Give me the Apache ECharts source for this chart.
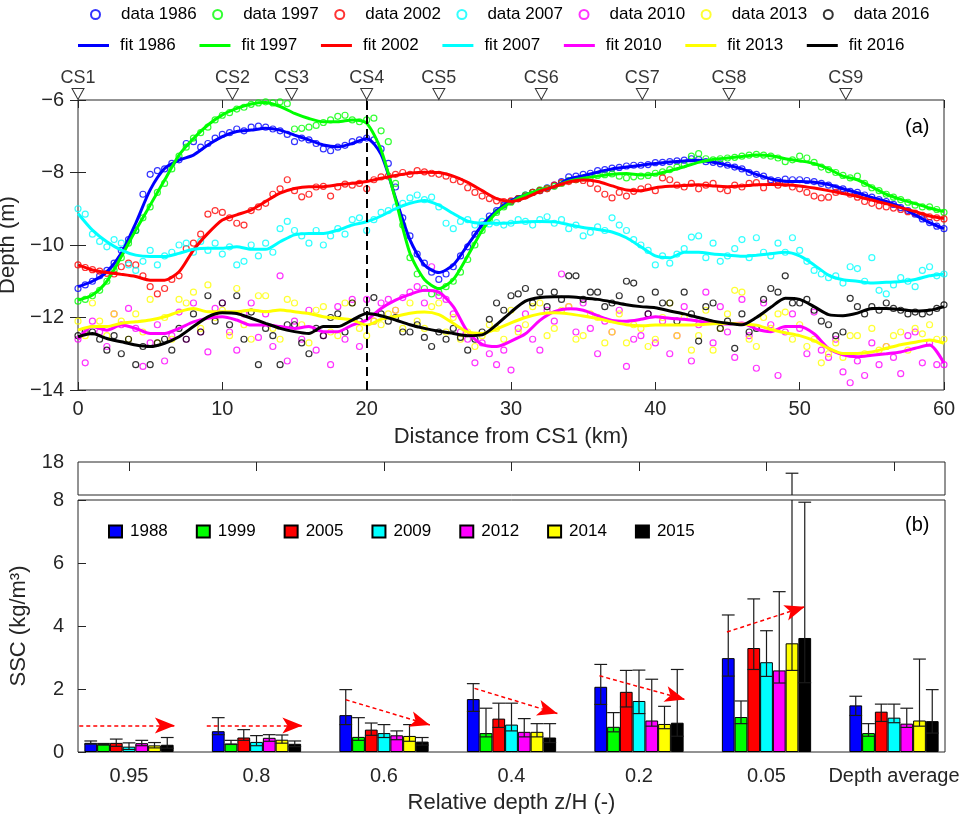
<!DOCTYPE html>
<html><head><meta charset="utf-8">
<script src="https://cdn.jsdelivr.net/npm/echarts@6/dist/echarts.min.js"></script>
<style>html,body{margin:0;padding:0;background:#fff}#c{width:965px;height:818px}</style>
</head><body><div id="c"></div>
<script>
// ---------- Panel (a): bed profiles ----------
const fitKm = [0,1,2,3,4,5,6,7,8,9,10,11,12,13,14,15,16,17,18,19,20,21,22,23,24,25,26,27,28,29,30,
  31,32,33,34,35,36,37,38,39,40,41,42,43,44,45,46,47,48,49,50,51,52,53,54,55,56,57,58,59,60];
const fit1986 = [-11.15,-11.0,-10.74,-10.23,-9.4,-8.48,-7.89,-7.66,-7.52,-7.24,
  -7.01,-6.87,-6.83,-6.78,-6.83,-6.97,-7.1,-7.24,-7.29,-7.2,
  -7.06,-7.5,-8.7,-9.86,-10.55,-10.76,-10.55,-10.0,-9.45,-9.05,
  -8.78,-8.62,-8.5,-8.39,-8.18,-8.09,-7.99,-7.9,-7.85,-7.8,
  -7.75,-7.71,-7.68,-7.66,-7.72,-7.8,-7.9,-8.05,-8.18,-8.24,
  -8.25,-8.27,-8.33,-8.45,-8.56,-8.69,-8.8,-8.95,-9.17,-9.38,-9.55];
const fit1997 = [-11.52,-11.38,-11.0,-10.32,-9.59,-8.9,-8.21,-7.52,-7.06,-6.69,
  -6.41,-6.23,-6.11,-6.07,-6.18,-6.37,-6.51,-6.6,-6.6,-6.55,
  -6.64,-7.38,-8.75,-10.23,-10.95,-11.2,-10.95,-10.3,-9.6,-9.1,
  -8.82,-8.62,-8.48,-8.39,-8.24,-8.16,-8.1,-8.05,-8.03,-8.07,
  -8.05,-7.95,-7.84,-7.72,-7.64,-7.6,-7.56,-7.52,-7.54,-7.62,
  -7.68,-7.75,-7.9,-8.1,-8.2,-8.4,-8.6,-8.74,-8.86,-8.98,-9.08];
const fit2002 = [-10.55,-10.69,-10.76,-10.81,-10.87,-10.97,-10.97,-10.74,-10.14,-9.68,
  -9.31,-9.17,-9.03,-8.8,-8.57,-8.44,-8.39,-8.39,-8.34,-8.3,
  -8.25,-8.16,-8.08,-8.02,-7.99,-8.0,-8.1,-8.27,-8.5,-8.72,
  -8.8,-8.7,-8.52,-8.39,-8.26,-8.21,-8.25,-8.37,-8.48,-8.5,
  -8.42,-8.38,-8.36,-8.34,-8.37,-8.39,-8.37,-8.34,-8.33,-8.34,
  -8.37,-8.43,-8.5,-8.58,-8.66,-8.76,-8.86,-8.97,-9.08,-9.2,-9.27];
const fit2007 = [-9.13,-9.59,-9.91,-10.14,-10.28,-10.32,-10.32,-10.23,-10.12,-10.09,
  -10.09,-10.05,-10.12,-10.12,-9.91,-9.72,-9.68,-9.68,-9.59,-9.45,
  -9.36,-9.2,-9.0,-8.85,-8.77,-8.9,-9.13,-9.34,-9.4,-9.4,
  -9.39,-9.36,-9.35,-9.36,-9.44,-9.52,-9.57,-9.64,-9.8,-10.05,
  -10.3,-10.35,-10.2,-10.2,-10.25,-10.28,-10.31,-10.28,-10.24,-10.2,
  -10.3,-10.55,-10.83,-10.96,-11.0,-11.05,-11.03,-11.01,-10.95,-10.85,-10.8];
const fit2010 = [-12.6,-12.25,-12.35,-12.21,-12.3,-12.44,-12.44,-12.3,-12.12,-12.02,
  -11.98,-12.07,-12.21,-12.21,-12.25,-12.3,-12.25,-12.39,-12.39,-12.21,
  -12.07,-11.75,-11.52,-11.36,-11.25,-11.3,-11.7,-12.4,-12.74,-12.8,
  -12.65,-12.45,-12.08,-11.84,-11.76,-11.8,-11.95,-12.08,-12.1,-12.05,
  -11.98,-12.02,-12.05,-12.1,-12.15,-12.18,-12.15,-12.32,-12.39,-12.25,
  -12.25,-12.45,-12.85,-13.03,-13.08,-13.04,-13.0,-12.95,-12.85,-12.76,-13.26];
const fit2013 = [-12.35,-12.25,-12.25,-12.16,-12.12,-12.07,-11.98,-11.84,-11.75,-11.84,
  -11.84,-11.84,-11.79,-11.84,-11.79,-11.84,-11.89,-11.98,-12.02,-12.07,
  -12.21,-12.05,-11.97,-11.88,-11.85,-11.92,-12.16,-12.4,-12.44,-12.32,
  -12.15,-12.0,-11.9,-11.87,-11.9,-11.96,-12.03,-12.12,-12.2,-12.23,
  -12.21,-12.21,-12.21,-12.2,-12.17,-12.16,-12.18,-12.21,-12.33,-12.42,
  -12.5,-12.64,-12.85,-12.99,-12.99,-12.95,-12.85,-12.75,-12.68,-12.62,-12.71];
const fit2016 = [-12.53,-12.44,-12.58,-12.67,-12.76,-12.8,-12.71,-12.53,-12.25,-11.98,
  -11.87,-11.89,-12.02,-12.16,-12.3,-12.39,-12.44,-12.25,-12.25,-12.07,
  -11.89,-11.95,-12.07,-12.2,-12.3,-12.38,-12.44,-12.5,-12.48,-12.2,
  -11.85,-11.55,-11.45,-11.43,-11.43,-11.46,-11.5,-11.57,-11.65,-11.7,
  -11.73,-11.82,-11.9,-12.0,-12.1,-12.16,-12.2,-12.0,-11.72,-11.47,
  -11.5,-11.7,-11.92,-11.95,-11.88,-11.75,-11.75,-11.78,-11.82,-11.8,-11.7];

const dataKm = [0,0.5,1,1.5,2,2.5,3,3.5,4,4.5, 5,5.5,6,6.5,7,7.5,8,8.5,9,9.5,
  10,10.5,11,11.5,12,12.5,13,13.5,14,14.5, 15,15.5,16,16.5,17,17.5,18,18.5,19,19.5,
  20,20.5,21,21.5,22,22.5,23,23.5,24,24.5, 25,25.5,26,26.5,27,27.5,28,28.5,29,29.5,
  30,30.5,31,31.5,32,32.5,33,33.5,34,34.5, 35,35.5,36,36.5,37,37.5,38,38.5,39,39.5,
  40,40.5,41,41.5,42,42.5,43,43.5,44,44.5, 45,45.5,46,46.5,47,47.5,48,48.5,49,49.5,
  50,50.5,51,51.5,52,52.5,53,53.5,54,54.5, 55,55.5,56,56.5,57,57.5,58,58.5,59,59.5, 60];
const data1986 = [-11.2,-11.1,-11.0,-10.85,-10.7,-10.5,-10.15,-9.85,-9.6,-8.6,
  -8.05,-7.95,-7.9,-7.75,-7.65,-7.2,-7.15,-7.3,-7.2,-7.05,
  -6.95,-6.9,-6.8,-6.85,-6.75,-6.72,-6.75,-6.8,-6.85,-6.95,
  -7.15,-7.05,-7.1,-7.2,-7.35,-7.4,-7.3,-7.25,-7.15,-7.1,
  -7.05,-7.1,-7.35,-7.75,-8.4,-9.25,-9.75,-10.25,-10.5,-10.75,
  -10.95,-10.8,-10.6,-10.3,-10.05,-9.7,-9.45,-9.2,-9.05,-8.9,
  -8.8,-8.72,-8.62,-8.55,-8.5,-8.42,-8.35,-8.25,-8.12,-8.1,
  -8.05,-8.02,-7.95,-7.92,-7.88,-7.86,-7.82,-7.8,-7.8,-7.78,
  -7.73,-7.72,-7.7,-7.68,-7.66,-7.62,-7.64,-7.7,-7.72,-7.76,
  -7.8,-7.85,-7.9,-8.0,-8.05,-8.1,-8.2,-8.22,-8.18,-8.2,
  -8.2,-8.22,-8.25,-8.3,-8.35,-8.42,-8.45,-8.52,-8.55,-8.62,
  -8.68,-8.75,-8.8,-8.88,-8.97,-9.05,-9.15,-9.28,-9.38,-9.48, -9.55];
const data1997 = [-11.55,-11.5,-11.4,-11.25,-11.0,-10.7,-10.35,-9.95,-9.6,-9.25,
  -8.95,-8.55,-8.3,-7.9,-7.55,-7.3,-7.05,-6.9,-6.75,-6.55,
  -6.42,-6.35,-6.25,-6.2,-6.12,-6.08,-6.05,-6.08,-6.05,-6.1,
  -6.8,-6.78,-6.75,-6.7,-6.62,-6.55,-6.45,-6.42,-6.55,-6.6,
  -6.55,-6.5,-6.85,-7.15,-8.3,-9.45,-10.35,-10.8,-11.2,-11.35,
  -11.3,-11.15,-11.0,-10.75,-10.4,-10.0,-9.6,-9.3,-9.1,-8.95,
  -8.82,-8.72,-8.62,-8.55,-8.48,-8.44,-8.38,-8.3,-8.22,-8.2,
  -8.15,-8.12,-8.08,-8.06,-8.04,-8.1,-8.15,-8.12,-8.1,-8.08,
  -8.02,-7.98,-7.92,-7.85,-7.78,-7.55,-7.48,-7.62,-7.65,-7.62,
  -7.6,-7.58,-7.55,-7.52,-7.5,-7.52,-7.55,-7.6,-7.7,-7.65,
  -7.55,-7.6,-7.72,-7.85,-7.92,-8.0,-8.08,-8.15,-8.1,-8.3,
  -8.42,-8.5,-8.6,-8.68,-8.75,-8.82,-8.9,-8.95,-8.95,-9.02, -9.1];
const data2002 = [-10.55,-10.62,-10.68,-10.72,-10.78,-10.8,-10.6,-10.5,-10.55,-10.85,
  -11.15,-11.35,-11.2,-10.95,-10.85,-10.1,-9.95,-9.7,-9.15,-9.05,
  -9.1,-9.25,-9.4,-9.45,-9.05,-8.95,-8.85,-8.6,-8.45,-8.2,
  -8.5,-8.67,-8.6,-8.4,-8.38,-8.65,-8.4,-8.32,-8.35,-8.3,
  -8.45,-8.2,-8.12,-8.1,-8.05,-8.0,-8.05,-7.95,-7.98,-8.02,
  -8.05,-8.1,-8.2,-8.25,-8.42,-8.55,-8.65,-8.72,-8.78,-8.8,
  -8.78,-8.72,-8.65,-8.55,-8.5,-8.45,-8.35,-8.28,-8.25,-8.2,
  -8.22,-8.3,-8.45,-8.6,-8.7,-8.55,-8.65,-8.52,-8.45,-8.4,
  -8.5,-8.15,-8.2,-8.35,-8.4,-8.3,-8.45,-8.35,-8.3,-8.45,
  -8.5,-8.35,-8.4,-8.3,-8.28,-8.42,-8.25,-8.35,-8.3,-8.4,
  -8.45,-8.55,-8.65,-8.7,-8.68,-8.55,-8.52,-8.6,-8.68,-8.8,
  -8.85,-8.92,-8.95,-8.98,-9.02,-9.08,-9.12,-9.18,-9.22,-9.25, -9.28];
const data2007 = [-9.0,-9.15,-9.7,-9.9,-10.05,-9.85,-9.95,-10.55,-10.7,-10.45,
  -10.15,-10.55,-10.3,-10.2,-10.0,-9.95,-10.2,-9.9,-10.15,-9.95,
  -10.25,-10.05,-10.55,-10.45,-10.0,-10.3,-9.95,-10.2,-9.55,-9.35,
  -9.6,-9.75,-9.95,-9.6,-10.0,-9.75,-9.55,-9.7,-9.3,-9.25,
  -9.6,-9.3,-9.1,-9.05,-8.95,-8.85,-8.7,-8.62,-8.75,-8.68,
  -8.95,-9.4,-9.55,-9.35,-9.3,-9.45,-9.35,-9.42,-9.38,-9.45,
  -9.4,-9.3,-9.35,-9.45,-9.3,-9.22,-9.4,-9.3,-9.55,-9.45,
  -9.75,-9.65,-9.5,-9.6,-9.25,-9.45,-9.6,-9.85,-10.0,-10.15,
  -10.55,-10.3,-10.5,-10.25,-10.1,-9.78,-9.75,-10.35,-9.95,-10.45,
  -10.3,-10.1,-9.85,-10.35,-9.8,-10.2,-10.3,-9.95,-10.2,-9.8,
  -10.15,-10.45,-10.7,-10.8,-10.9,-10.85,-11.05,-10.6,-10.65,-11.0,
  -10.35,-11.25,-11.35,-11.1,-10.9,-11.0,-11.15,-10.7,-10.6,-10.85, -10.8];
const data2010 = [-12.6,-13.25,-12.1,-12.4,-12.8,-11.9,-12.2,-11.75,-12.3,-13.35,
  -12.7,-12.2,-13.2,-12.5,-11.85,-12.6,-11.6,-12.4,-12.95,-11.75,
  -11.6,-12.4,-12.9,-11.9,-11.6,-12.55,-11.9,-12.8,-10.85,-13.2,
  -12.1,-12.6,-11.8,-12.9,-12.5,-13.3,-11.7,-12.6,-11.5,-12.8,
  -11.5,-12.1,-11.6,-11.5,-11.8,-11.45,-11.3,-11.15,-11.6,-10.6,
  -11.4,-11.5,-11.9,-12.4,-12.6,-13.25,-12.7,-13.0,-13.3,-12.9,
  -13.45,-12.3,-11.9,-12.6,-12.9,-11.8,-12.1,-10.8,-11.7,-12.4,
  -11.6,-12.3,-13.0,-12.1,-12.4,-11.8,-13.35,-12.6,-12.5,-11.9,
  -12.7,-12.1,-13.0,-12.5,-11.7,-13.2,-12.2,-11.3,-12.7,-11.7,
  -12.4,-13.1,-11.5,-12.5,-13.4,-11.6,-12.2,-13.6,-12.4,-11.9,
  -12.3,-13.0,-11.85,-12.9,-13.1,-12.6,-13.5,-13.8,-13.2,-13.6,
  -12.7,-13.3,-12.8,-13.1,-13.55,-12.5,-12.4,-13.25,-12.7,-13.3, -13.3];
const data2013 = [-12.1,-12.5,-11.6,-12.1,-12.5,-11.9,-12.1,-12.6,-11.9,-12.4,
  -11.5,-12.7,-12.0,-12.6,-11.5,-11.6,-11.3,-12.3,-11.1,-12.0,
  -11.8,-12.5,-11.2,-12.2,-12.6,-11.4,-11.4,-12.3,-12.6,-11.5,
  -11.6,-12.2,-12.7,-11.8,-11.7,-12.4,-12.5,-11.6,-11.6,-12.3,
  -12.5,-12.1,-12.2,-11.9,-11.8,-12.3,-11.6,-12.1,-12.3,-11.7,
  -11.6,-12.4,-12.0,-12.6,-12.4,-12.8,-12.5,-12.2,-12.3,-12.6,
  -11.8,-12.4,-12.2,-11.7,-11.6,-12.5,-12.3,-11.8,-11.7,-12.6,
  -12.5,-11.9,-12.0,-12.7,-12.4,-11.9,-12.7,-12.2,-12.3,-12.8,
  -12.6,-12.0,-11.6,-12.5,-12.0,-12.9,-12.5,-11.8,-12.9,-12.3,
  -11.9,-11.25,-11.3,-12.6,-12.8,-12.0,-12.3,-11.9,-11.85,-12.6,
  -12.2,-12.8,-12.6,-13.25,-13.0,-12.7,-13.1,-12.5,-12.5,-13.0,
  -12.3,-12.9,-12.8,-12.5,-12.4,-12.9,-12.3,-12.45,-12.2,-12.6, -12.6];
const data2016 = [-12.5,-12.4,-12.4,-12.6,-12.9,-12.5,-13.0,-12.6,-13.3,-12.8,
  -13.3,-12.7,-12.6,-12.9,-12.3,-12.6,-11.9,-12.4,-11.4,-12.1,
  -11.6,-12.2,-11.4,-12.6,-11.85,-13.3,-12.3,-12.5,-13.3,-12.2,
  -12.2,-12.7,-13.0,-12.3,-12.5,-12.0,-11.9,-12.4,-11.6,-12.1,
  -11.8,-11.45,-11.9,-12.1,-12.0,-12.4,-12.4,-12.2,-12.55,-12.8,
  -12.4,-12.6,-12.3,-12.55,-12.9,-12.6,-12.4,-12.05,-11.6,-11.8,
  -11.4,-11.35,-11.2,-11.6,-11.3,-11.7,-11.3,-11.5,-10.85,-10.85,
  -11.5,-11.3,-11.3,-11.7,-11.6,-11.4,-11.0,-11.05,-11.5,-11.9,
  -11.3,-11.6,-11.6,-12.1,-11.3,-11.9,-12.65,-11.7,-11.6,-12.3,
  -12.1,-12.85,-11.9,-12.4,-12.3,-11.5,-11.2,-11.3,-10.85,-11.6,
  -11.6,-11.5,-11.8,-12.1,-12.2,-12.5,-12.4,-11.47,-11.7,-11.9,
  -11.7,-11.8,-11.6,-11.75,-11.8,-11.9,-11.85,-11.9,-11.85,-11.75, -11.65];

const profileYears = ['1986','1997','2002','2007','2010','2013','2016'];
const csNames = ['CS1','CS2','CS3','CS4','CS5','CS6','CS7','CS8','CS9'];
const csKm = [0,10.7,14.8,20,25,32.1,39.1,45.1,53.2];
const cs4Km = 20;

// ---------- Panel (b): SSC bars ----------
const depthCategories = ['0.95','0.8','0.6','0.4','0.2','0.05','Depth average'];
const depthPos = [1,2,3,4,5,6,7];
const sscYears = ['1988','1999','2005','2009','2012','2014','2015'];
const ssc1988 = [0.29,0.66,1.17,1.68,2.07,2.98,1.48];
const ssc1999 = [0.25,0.27,0.48,0.60,0.80,1.11,0.60];
const ssc2005 = [0.29,0.46,0.71,1.06,1.91,3.30,1.28];
const ssc2009 = [0.17,0.32,0.60,0.87,1.62,2.85,1.09];
const ssc2012 = [0.28,0.45,0.53,0.64,1.00,2.59,0.90];
const ssc2014 = [0.21,0.39,0.51,0.64,0.89,3.45,1.00];
const ssc2015 = [0.23,0.26,0.33,0.46,0.93,3.62,0.98];
const low1988 = [0.25,0.55,0.87,1.29,1.51,2.41,1.16], high1988 = [0.35,1.09,1.98,2.17,2.78,4.35,1.77];
const low1999 = [0.22,0.24,0.37,0.48,0.64,0.90,0.50], high1999 = [0.27,0.37,1.09,1.39,1.25,1.62,0.90];
const low2005 = [0.18,0.37,0.53,0.78,1.43,2.62,0.97], high2005 = [0.41,0.71,0.92,1.55,2.59,4.86,1.52];
const low2009 = [0.08,0.20,0.46,0.67,1.22,2.40,0.93], high2009 = [0.29,0.52,0.87,1.55,2.60,3.85,1.52];
const low2012 = [0.20,0.34,0.39,0.48,0.82,2.19,0.78], high2012 = [0.37,0.55,0.67,1.06,2.31,5.09,1.39];
const low2014 = [0.13,0.28,0.34,0.48,0.74,2.59,0.82], high2014 = [0.30,0.54,0.87,0.90,1.45,17.66,2.95];
const low2015 = [0.12,0.17,0.22,0.30,0.50,2.20,0.60], high2015 = [0.46,0.35,0.46,0.90,2.62,7.93,1.98];
// trend arrows: [x0, y0, x1, y1] in (category position, SSC)
const trendArrows = [[0.61,0.84,1.36,0.84],[1.61,0.84,2.36,0.84],[2.70,1.66,3.36,0.86],
  [3.71,2.02,4.36,1.22],[4.69,2.42,5.36,1.67],[5.69,3.81,6.30,4.61]];

// ---------- build ----------
const colors = ['#0000ff','#00ff00','#ff0000','#00ffff','#ff00ff','#ffff00','#000000'];
const FONT = 'Liberation Sans, Arial, sans-serif';
const AX = '#262626';
const profData = [data1986,data1997,data2002,data2007,data2010,data2013,data2016];
const profFit = [fit1986,fit1997,fit2002,fit2007,fit2010,fit2013,fit2016];
const sscMean = [ssc1988,ssc1999,ssc2005,ssc2009,ssc2012,ssc2014,ssc2015];
const sscLow = [low1988,low1999,low2005,low2009,low2012,low2014,low2015];
const sscHigh = [high1988,high1999,high2005,high2009,high2012,high2014,high2015];
const pair = (xs, ys) => xs.map((x, i) => [x, ys[i]]);
const minus = v => String(v).replace('-', '\u2212');

const series = [];
profileYears.forEach((y, i) => {
  series.push({
    name: 'data ' + y, type: 'scatter', xAxisIndex: 0, yAxisIndex: 0,
    symbol: 'circle', symbolSize: 6, z: 2, silent: true,
    itemStyle: { color: 'rgba(255,255,255,0)', borderColor: colors[i], borderWidth: 1.2 },
    data: pair(dataKm, profData[i])
  });
});
profileYears.forEach((y, i) => {
  const s = {
    name: 'fit ' + y, type: 'line', xAxisIndex: 0, yAxisIndex: 0,
    symbol: 'none', showSymbol: false, z: 3, silent: true, smooth: 0.25,
    lineStyle: { color: colors[i], width: 3 }, itemStyle: { color: colors[i] },
    data: pair(fitKm, profFit[i])
  };
  if (i === 6) {
    s.markLine = { silent: true, symbol: ['none','none'], label: { show: false },
      lineStyle: { color: '#000', type: [9,5], width: 2 }, data: [{ xAxis: cs4Km }] };
  }
  series.push(s);
});
series.push({
  name: 'CS', type: 'scatter', xAxisIndex: 0, yAxisIndex: 0, clip: false, z: 6, silent: true,
  symbol: 'path://M0,0L12,0L6,11Z', symbolSize: [12, 11], symbolOffset: [0, -6],
  itemStyle: { color: '#fff', borderColor: '#000', borderWidth: 1 },
  label: { show: true, position: 'top', distance: 1, fontSize: 18, color: '#000', fontFamily: FONT,
    formatter: p => csNames[p.dataIndex] },
  data: csKm.map(k => [k, -6])
});
sscYears.forEach((y, i) => {
  const s = {
    name: y, type: 'bar', xAxisIndex: 3, yAxisIndex: 3, barWidth: 12.75, barGap: '0%',
    silent: true, itemStyle: { color: colors[i], borderColor: '#000', borderWidth: 1 },
    data: pair(depthPos, sscMean[i])
  };
  if (i === 3) {
    // the middle bar of each group sits on the category position, so its markLine is not shifted
    s.markLine = { silent: true, symbol: ['none','arrow'], symbolSize: [12, 20], label: { show: false },
      lineStyle: { color: '#ff0000', type: [4,3], width: 1.5 }, z: 10,
      data: trendArrows.map(a => [{ coord: [a[0], a[1]] }, { coord: [a[2], a[3]] }]) };
  }
  series.push(s);
});
const errData = [];
sscYears.forEach((y, i) => depthPos.forEach((p, j) => errData.push([p, sscLow[i][j], sscHigh[i][j], i])));
function errRender(part) {
  return function (params, api) {
    const cat = api.value(0), lo = api.value(1), hi = api.value(2), yi = api.value(3);
    const x = cat + (yi - 3) * 0.1;
    const half = api.size([0.1, 0])[0] / 2;
    const st = { stroke: '#1a1a1a', lineWidth: 1.2 };
    const ch = [];
    const ln = (a, b) => ch.push({ type: 'line', shape: { x1: a[0], y1: a[1], x2: b[0], y2: b[1] }, style: st });
    if (part === 'lower') {
      const top = Math.min(hi, 8);
      const p1 = api.coord([x, lo]), p2 = api.coord([x, top]);
      ln(p1, p2);
      ln([p1[0] - half, p1[1]], [p1[0] + half, p1[1]]);
      if (hi <= 8) ln([p2[0] - half, p2[1]], [p2[0] + half, p2[1]]);
    } else if (hi > 17) {
      const p1 = api.coord([x, 17]), p2 = api.coord([x, hi]);
      ln(p1, p2);
      ln([p2[0] - half, p2[1]], [p2[0] + half, p2[1]]);
    }
    return { type: 'group', children: ch };
  };
}
series.push({ type: 'custom', xAxisIndex: 3, yAxisIndex: 3, z: 5, silent: true,
  renderItem: errRender('lower'), data: errData });
series.push({ type: 'custom', xAxisIndex: 2, yAxisIndex: 2, z: 5, silent: true,
  renderItem: errRender('upper'), data: errData });

const tickIn = { show: true, inside: true, length: 8, lineStyle: { color: AX } };
const lbl = { fontSize: 20, color: AX, fontFamily: FONT };
const option = {
  animation: false,
  textStyle: { fontFamily: FONT },
  title: [
    { text: '(a)', left: 900, top: 112, textStyle: { fontSize: 20, fontWeight: 'normal', color: '#000', fontFamily: FONT } },
    { text: '(b)', left: 900, top: 510, textStyle: { fontSize: 20, fontWeight: 'normal', color: '#000', fontFamily: FONT } }
  ],
  legend: [
    { data: profileYears.map(y => 'data ' + y), left: 90, top: 6, padding: 0, icon: 'circle',
      itemWidth: 9, itemHeight: 9, itemGap: 15.5, selectedMode: false,
      textStyle: { fontSize: 17, color: '#000', padding: [0,0,0,16], fontFamily: FONT } },
    { data: profileYears.map(y => 'fit ' + y), left: 78, top: 37, padding: 0, icon: 'rect',
      itemWidth: 31, itemHeight: 3, itemGap: 23.7, selectedMode: false,
      textStyle: { fontSize: 17, color: '#000', padding: [0,0,0,6], fontFamily: FONT } },
    { data: sscYears, left: 108, top: 523, padding: 0, icon: 'rect',
      itemWidth: 13, itemHeight: 12, itemGap: 28, selectedMode: false,
      textStyle: { fontSize: 17, color: '#000', padding: [0,0,0,3], fontFamily: FONT } }
  ],
  grid: [
    { left: 78, top: 100, width: 866, height: 290, show: true, borderColor: AX, borderWidth: 1,
      outerBoundsMode: 'none', containLabel: false },
    { left: 78, top: 462, width: 867, height: 33, show: true, borderColor: AX, borderWidth: 1,
      outerBoundsMode: 'none', containLabel: false },
    { left: 78, top: 500, width: 867, height: 252, show: true, borderColor: AX, borderWidth: 1,
      outerBoundsMode: 'none', containLabel: false }
  ],
  xAxis: [
    { gridIndex: 0, type: 'value', min: 0, max: 60, interval: 10, position: 'bottom',
      axisLine: { show: false }, axisTick: tickIn, splitLine: { show: false },
      axisLabel: Object.assign({ margin: 9 }, lbl),
      name: 'Distance from CS1 (km)', nameLocation: 'middle', nameGap: 36,
      nameTextStyle: { fontSize: 22, color: AX, fontFamily: FONT } },
    { gridIndex: 0, type: 'value', min: 0, max: 60, interval: 10, position: 'top',
      axisLine: { show: false }, axisTick: tickIn, splitLine: { show: false }, axisLabel: { show: false } },
    { gridIndex: 1, type: 'value', min: 0.6, max: 7.4, position: 'top',
      axisLine: { show: false }, splitLine: { show: false }, axisLabel: { show: false },
      axisTick: { show: true, inside: true, length: 9, lineStyle: { color: AX }, customValues: depthPos } },
    { gridIndex: 2, type: 'value', min: 0.6, max: 7.4, position: 'bottom',
      axisLine: { show: false }, splitLine: { show: false },
      axisTick: { show: false, customValues: depthPos },
      axisLabel: Object.assign({ margin: 14, customValues: depthPos, showMinLabel: true, showMaxLabel: true,
        formatter: v => depthCategories[Math.round(v) - 1] }, lbl),
      name: 'Relative depth z/H (-)', nameLocation: 'middle', nameGap: 40,
      nameTextStyle: { fontSize: 22, color: AX, fontFamily: FONT } }
  ],
  yAxis: [
    { gridIndex: 0, type: 'value', min: -14, max: -6, interval: 2, position: 'left',
      axisLine: { show: false }, axisTick: tickIn, splitLine: { show: false },
      axisLabel: Object.assign({ margin: 14, formatter: minus }, lbl),
      name: 'Depth (m)', nameLocation: 'middle', nameGap: 48,
      nameTextStyle: { fontSize: 22, color: AX, fontFamily: FONT } },
    { gridIndex: 0, type: 'value', min: -14, max: -6, interval: 2, position: 'right',
      axisLine: { show: false }, axisTick: tickIn, splitLine: { show: false }, axisLabel: { show: false } },
    { gridIndex: 1, type: 'value', min: 17, max: 18, position: 'left',
      axisLine: { show: false }, splitLine: { show: false },
      axisTick: { show: false, customValues: [18] },
      axisLabel: Object.assign({ margin: 14, customValues: [18], showMaxLabel: true }, lbl) },
    { gridIndex: 2, type: 'value', min: 0, max: 8, interval: 2, position: 'left',
      axisLine: { show: false }, axisTick: tickIn, splitLine: { show: false },
      axisLabel: Object.assign({ margin: 14 }, lbl),
      name: 'SSC (kg/m³)', nameLocation: 'middle', nameGap: 48,
      nameTextStyle: { fontSize: 22, color: AX, fontFamily: FONT } }
  ],
  series: series
};
const chart = echarts.init(document.getElementById('c'), null, { renderer: 'canvas' });
chart.setOption(option);
</script>
</body></html>
